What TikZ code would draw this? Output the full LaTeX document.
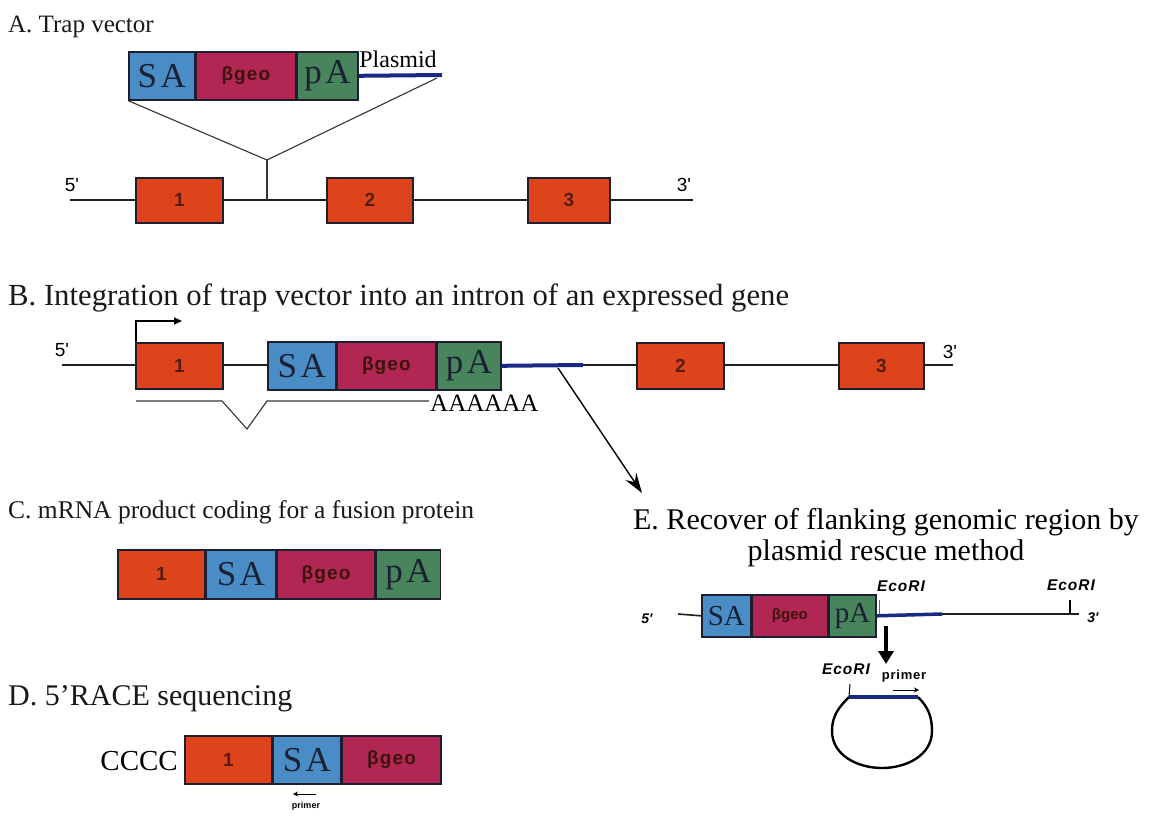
\documentclass[tikz,border=0pt]{standalone}
\usepackage{fontspec}
\setmainfont{Liberation Serif}
\newfontfamily\lsans{Liberation Sans}
\newfontfamily\lsanswide[LetterSpace=6]{Liberation Sans}
\newfontfamily\serifwide[LetterSpace=10]{Liberation Serif}
\usetikzlibrary{arrows.meta}

\definecolor{exonred}{RGB}{222,68,28}
\definecolor{sablue}{RGB}{74,140,198}
\definecolor{geored}{RGB}{178,38,84}
\definecolor{pagreen}{RGB}{72,132,92}
\definecolor{plasblue}{RGB}{24,42,132}
\definecolor{edge}{RGB}{30,30,48}
\definecolor{numdark}{RGB}{84,28,18}
\definecolor{inkdark}{RGB}{28,32,52}

\tikzset{
  seg/.style={draw=edge, line width=1.6pt, inner sep=0pt, anchor=north west},
  exon/.style={seg, fill=exonred, text=numdark, font=\lsans\bfseries\fontsize{19}{19}\selectfont},
  sabox/.style={seg, fill=sablue, text=inkdark, font=\serifwide\fontsize{35}{35}\selectfont},
  geobox/.style={seg, fill=geored, text=numdark!70!black, font=\lsanswide\bfseries\fontsize{19}{19}\selectfont},
  pabox/.style={seg, fill=pagreen, text=inkdark, font=\serifwide\fontsize{35}{35}\selectfont},
  heading/.style={anchor=base west, inner sep=0pt, text=black!90},
  dna/.style={line width=1.6pt, draw=black!88},
  plasmid/.style={line width=4pt, draw=plasblue},
  guide/.style={line width=1.1pt, draw=black!80},
  endlabel/.style={inner sep=0pt, font=\lsans\fontsize{19}{19}\selectfont},
  smallend/.style={inner sep=0pt, font=\lsans\bfseries\itshape\fontsize{14}{14}\selectfont},
  ecori/.style={inner sep=0pt, font=\lsanswide\bfseries\itshape\fontsize{15.5}{15.5}\selectfont},
  primerlbl/.style={inner sep=0pt, font=\lsans\bfseries\fontsize{9}{9}\selectfont},
}

\begin{document}
\begin{tikzpicture}[x=1pt,y=-1pt]
\fill[white] (0,0) rectangle (1151,816);
\useasboundingbox (0,0) rectangle (1151,816);

% ---------- A: trap vector above the gene ----------
\node[heading, font=\fontsize{25}{25}\selectfont] (tA) at (8,33) {A. Trap vector};
\coordinate (a5) at (70,200);
\coordinate (a3) at (693,200);
\draw[dna] (a5) -- (a3);
\node[exon, minimum width=87pt, minimum height=45pt] (aE1) at (135,177) {1};
\node[exon, minimum width=86pt, minimum height=45pt] (aE2) at (326,177) {2};
\node[exon, minimum width=82pt, minimum height=45pt] (aE3) at (527,177) {3};
\node[endlabel] (a5l) at (72,185) {5'};
\node[endlabel] (a3l) at (684,185) {3'};

\node[sabox, minimum width=66pt, minimum height=48pt] (aSA) at (128,51) {SA};
\node[geobox, minimum width=99pt, minimum height=48pt] (aBG) at (aSA.north east) {βgeo};
\node[pabox, minimum width=61pt, minimum height=48pt] (aPA) at (aBG.north east) {pA};
\coordinate (aPend) at (442,75);
\draw[plasmid] (aPA.east) -- (aPend);
\node[anchor=base, inner sep=0pt, font=\fontsize{24}{24}\selectfont] (aPl) at (398,67) {Plasmid};
\coordinate (aApex) at (267,160);
\coordinate (aIns) at (267,200);
\coordinate (aRight) at (437,78);
\draw[guide] (aSA.south west) -- (aApex) -- (aRight);
\draw[guide] (aApex) -- (aIns);

% ---------- B: vector integrated into an intron ----------
\node[heading, font=\fontsize{30.7}{30.7}\selectfont] (tB) at (8,305) {B. Integration of trap vector into an intron of an expressed gene};
\coordinate (b5) at (62,365);
\coordinate (b3) at (953,365);
\draw[dna] (b5) -- (b3);
\node[exon, minimum width=87pt, minimum height=46pt] (bE1) at (135,342) {1};
\node[exon, minimum width=87pt, minimum height=46pt] (bE2) at (636,342) {2};
\node[exon, minimum width=85pt, minimum height=46pt] (bE3) at (838,342) {3};
\node[sabox, minimum width=68pt, minimum height=48pt] (bSA) at (267,341) {SA};
\node[geobox, minimum width=98pt, minimum height=48pt] (bBG) at (bSA.north east) {βgeo};
\node[pabox, minimum width=64pt, minimum height=48pt] (bPA) at (bBG.north east) {pA};
\coordinate (bPend) at (583,365);
\draw[plasmid] (bPA.east) -- (bPend);
\node[endlabel] (b5l) at (62,350) {5'};
\node[endlabel] (b3l) at (950,352) {3'};

% transcription start
\coordinate (bTSS) at (136,342);
\coordinate (bTSSe) at (182,321);
\draw[line width=1.2pt, -{Triangle[length=8pt,width=7pt]}] (bTSS) |- (bTSSe);

% spliced transcript with poly(A)
\coordinate (s1) at (136,401);
\coordinate (s2) at (222,401);
\coordinate (s3) at (247,429);
\coordinate (s4) at (267,401);
\coordinate (s5) at (429,401);
\draw[guide] (s1) -- (s2) -- (s3) -- (s4) -- (s5);
\node[anchor=base west, inner sep=0pt, font=\fontsize{25}{25}\selectfont] (polyA) at (430,411) {AAAAAA};

% arrow to panel E
\coordinate (bOut) at (558,368);
\coordinate (eIn) at (642,493);
\draw[line width=1.4pt, -{Stealth[length=20pt,width=13pt,inset=7pt]}] (bOut) -- (eIn);

% ---------- C: fusion mRNA ----------
\node[heading, font=\fontsize{25.5}{25.5}\selectfont] (tC) at (8,518) {C. mRNA product coding for a fusion protein};
\node[exon, minimum width=87pt, minimum height=49pt] (cE1) at (117,549) {1};
\node[sabox, minimum width=69pt, minimum height=49pt] (cSA) at (cE1.north east) {SA};
\node[geobox, minimum width=98pt, minimum height=49pt] (cBG) at (cSA.north east) {βgeo};
\node[pabox, minimum width=64pt, minimum height=49pt] (cPA) at (cBG.north east) {pA};

% ---------- D: 5' RACE ----------
\node[heading, font=\fontsize{30}{30}\selectfont] (tD) at (8,705) {D. 5'RACE sequencing};
\node[anchor=base east, inner sep=0pt, font=\fontsize{29}{29}\selectfont] (cccc) at (178,770) {CCCC};
\node[exon, minimum width=87pt, minimum height=48pt] (dE1) at (184,735) {1};
\node[sabox, minimum width=67pt, minimum height=48pt] (dSA) at (dE1.north east) {SA};
\node[geobox, minimum width=99pt, minimum height=48pt] (dBG) at (dSA.north east) {βgeo};
\coordinate (dP1) at (316,794);
\coordinate (dP2) at (293,794);
\draw[line width=1pt, -{Stealth[length=5pt,width=5pt]}] (dP1) -- (dP2);
\node[primerlbl] (dPl) at (306,806) {primer};

% ---------- E: plasmid rescue ----------
\node[anchor=base, inner sep=0pt, font=\fontsize{30}{30}\selectfont] (tE1) at (886,529) {E. Recover of flanking genomic region by};
\node[anchor=base, inner sep=0pt, font=\fontsize{30}{30}\selectfont] (tE2) at (886,560) {plasmid rescue method};

\coordinate (e5s) at (678,614);
\node[sabox, minimum width=49pt, minimum height=42pt, font=\fontsize{29}{29}\selectfont] (eSA) at (701,594) {SA};
\node[geobox, minimum width=75pt, minimum height=42pt, font=\lsans\bfseries\fontsize{15}{15}\selectfont] (eBG) at (eSA.north east) {βgeo};
\node[pabox, minimum width=47pt, minimum height=42pt, font=\fontsize{29}{29}\selectfont] (ePA) at (eBG.north east) {pA};
\draw[dna] (e5s) -- (eSA.west);
\coordinate (ePend) at (942,614);
\coordinate (e3e) at (1079,614);
\draw[dna] (ePend) -- (e3e);
\draw[plasmid, line width=3.5pt] (ePA.east) -- (ePend);
\node[smallend] (e5l) at (647,619) {5'};
\node[smallend] (e3l) at (1093,618) {3'};

\coordinate (eR1) at (879,614);
\coordinate (eR1t) at (879,600);
\coordinate (eR2) at (1070,614);
\coordinate (eR2t) at (1070,600);
\draw[line width=1pt, draw=black!60] (eR1) -- (eR1t);
\draw[line width=1.2pt] (eR2) -- (eR2t);
\node[ecori] (eR1l) at (901,586) {EcoRI};
\node[ecori] (eR2l) at (1071,585) {EcoRI};

\coordinate (eD1) at (886,626);
\coordinate (eD2) at (886,664);
\draw[line width=4pt, -{Triangle[length=13pt,width=15pt]}] (eD1) -- (eD2);

% rescued plasmid
\coordinate (pL) at (849,697);
\coordinate (pR) at (918,697);
\draw[line width=2.4pt] (pR) to[out=-45,in=90] (932,731) to[out=-90,in=0] (882,768)
  to[out=180,in=-90] (832,731) to[out=90,in=225] (pL);
\draw[plasblue, line width=3.5pt] (pL) -- (pR);
\coordinate (pT) at (850,684);
\draw[line width=1pt] (pL) -- (pT);
\node[ecori] (eR3l) at (846,669) {EcoRI};
\node[primerlbl, font=\lsanswide\bfseries\fontsize{13}{13}\selectfont] (ePl) at (904,676) {primer};
\coordinate (eP1) at (893,690);
\coordinate (eP2) at (919,690);
\draw[line width=1pt, -{Stealth[length=5pt,width=5pt]}] (eP1) -- (eP2);
\end{tikzpicture}
\end{document}
